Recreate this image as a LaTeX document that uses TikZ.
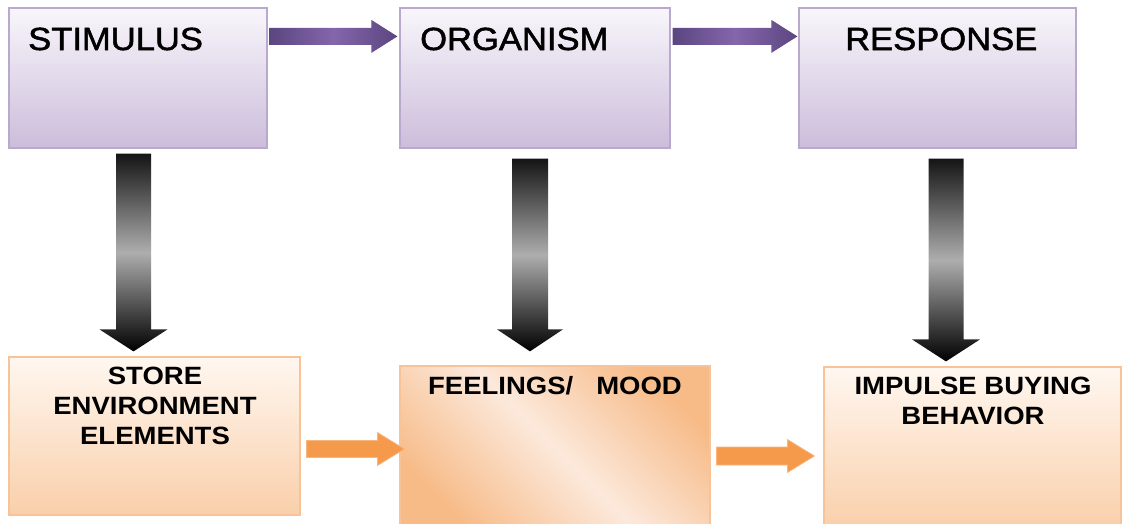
\documentclass[tikz,border=0pt]{standalone}
\usepackage{fontspec}
\setmainfont{Liberation Sans}
\newfontfamily\topfont[FakeStretch=1.08,FakeBold=1.6]{Liberation Sans}
\newfontfamily\botfont[FakeStretch=1.1]{Liberation Sans}
\usetikzlibrary{calc}
\definecolor{pTop}{HTML}{F8F6FB}
\definecolor{pBot}{HTML}{CCBDDB}
\definecolor{pBorder}{HTML}{B9AACD}
\definecolor{pArrowDark}{HTML}{5B4680}
\definecolor{pArrowLight}{HTML}{8466AB}
\definecolor{oTop}{HTML}{FFF7F0}
\definecolor{oBot}{HTML}{F9CFAA}
\definecolor{oCorner}{HTML}{F7BB88}
\definecolor{oLight}{HTML}{FCE9DB}
\definecolor{oBorder}{HTML}{F9C399}
\definecolor{oArrow}{HTML}{F59A4A}
\definecolor{oArrowEdge}{HTML}{F8B57E}
\newcommand{\myHArrow}[6]{%
  \path[#1] let \p1=(#2), \p2=(#3) in
  (\x1,{\y1+#4pt}) -- ({\x2-#6pt},{\y1+#4pt}) -- ({\x2-#6pt},{\y1+#5pt}) -- (\x2,\y1)
  -- ({\x2-#6pt},{\y1-#5pt}) -- ({\x2-#6pt},{\y1-#4pt}) -- (\x1,{\y1-#4pt}) -- cycle;}
\newcommand{\myVArrow}[6]{%
  \path[#1] let \p1=(#2), \p2=(#3) in
  ({\x1-#4pt},\y1) -- ({\x1-#4pt},{\y2+#6pt}) -- ({\x1-#5pt},{\y2+#6pt}) -- (\x1,\y2)
  -- ({\x1+#5pt},{\y2+#6pt}) -- ({\x1+#4pt},{\y2+#6pt}) -- ({\x1+#4pt},\y1) -- cycle;}
\tikzset{
  topbox/.style={draw=pBorder, line width=1.2pt, top color=pTop, bottom color=pBot, inner sep=0pt},
  storebox/.style={draw=oBorder, line width=1.2pt, top color=oTop, bottom color=oBot, inner sep=0pt},
  feelbox/.style={draw=oBorder, line width=1.2pt, top color=oCorner, bottom color=oCorner, middle color=oLight, shading angle=-45, inner sep=0pt},
  toplabel/.style={anchor=base west, inner sep=0pt, font=\topfont\fontsize{32}{38}\selectfont},
  botlabel/.style={anchor=north, inner sep=0pt, align=center, font=\botfont\bfseries\fontsize{25}{30}\selectfont},
  purplearrow/.style={left color=pArrowDark, right color=pArrowDark, middle color=pArrowLight},
  blackarrow/.style={top color=black!92, bottom color=black, middle color=black!32},
  orangearrow/.style={fill=oArrow, draw=oArrowEdge, line width=0.8pt},
}
\begin{document}
\begin{tikzpicture}[x=1pt, y=-1pt]
\useasboundingbox (0,0) rectangle (1126,523);
\clip (0,0) rectangle (1126,523);
% top boxes
\node[topbox, minimum width=258pt, minimum height=140pt] (stim) at (138,78) {};
\node[topbox, minimum width=270pt, minimum height=140pt] (org) at (535,78) {};
\node[topbox, minimum width=277pt, minimum height=140pt] (resp) at (937.5,78) {};
\node[toplabel] (stimT) at (28,50) {STIMULUS};
\node[toplabel] (orgT) at (420,50) {ORGANISM};
\node[toplabel] (respT) at (845,50) {RESPONSE};
% bottom boxes
\node[storebox, minimum width=291pt, minimum height=158pt] (store) at (154.5,436) {};
\node[feelbox, minimum width=310pt, minimum height=164pt] (feel) at (555,448) {};
\node[storebox, minimum width=297pt, minimum height=163pt] (imp) at (972.5,448.5) {};
\node[botlabel] (storeT) at (155,367) {STORE\\ENVIRONMENT\\ELEMENTS};
\node[botlabel] (feelT) at (555,376) {FEELINGS/\ \ \ MOOD};
\node[botlabel] (impT) at (973,377) {IMPULSE BUYING\\BEHAVIOR};
% purple arrows
\myHArrow{purplearrow}{$(stim.north east)+(2,29)$}{$(org.north west)+(-2,29)$}{8.5}{16.5}{26}
\myHArrow{purplearrow}{$(org.north east)+(2,29)$}{$(resp.north west)+(-1,29)$}{8.5}{16.5}{26}
% black arrows
\myVArrow{blackarrow}{$(stim.south)+(-4.5,5)$}{$(store.north)+(0,-5)$}{17.5}{34}{22}
\myVArrow{blackarrow}{$(org.south)+(-5,10)$}{$(feel.north)+(0,-14)$}{18}{33}{22}
\myVArrow{blackarrow}{$(resp.south)+(8.5,10)$}{$(imp.north)+(0,-5)$}{17.5}{34}{22}
% orange arrows
\myHArrow{orangearrow}{$(store.east)+(6,13)$}{$(feel.west)+(5,0)$}{8.5}{16.5}{27}
\myHArrow{orangearrow}{$(feel.east)+(6,8)$}{$(imp.west)+(-9,0)$}{9}{16.5}{27}
\end{tikzpicture}
\end{document}
